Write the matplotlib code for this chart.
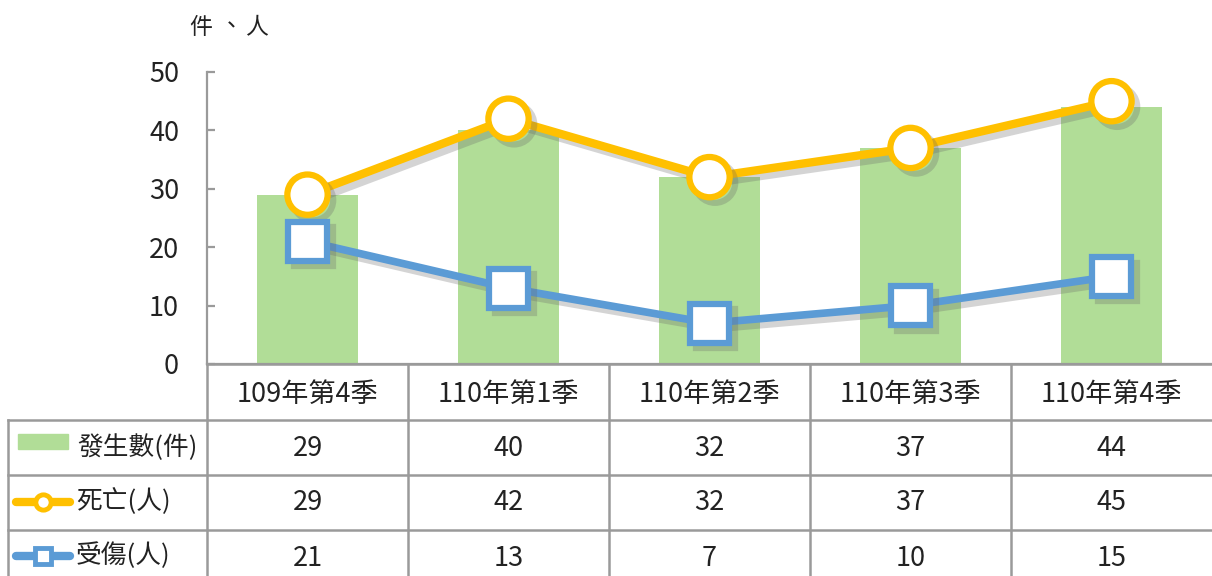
import matplotlib
matplotlib.use("Agg")
import matplotlib.pyplot as plt
import matplotlib.patheffects as pe
from matplotlib.patches import Rectangle

plt.rcParams['font.family'] = ['Noto Sans CJK TC', 'DejaVu Sans']

categories = ["109年第4季", "110年第1季", "110年第2季", "110年第3季", "110年第4季"]
cases = [29, 40, 32, 37, 44]
deaths = [29, 42, 32, 37, 45]
injuries = [21, 13, 7, 10, 15]
series_names = ["發生數(件)", "死亡(人)", "受傷(人)"]
yticks = [0, 10, 20, 30, 40, 50]
unit_chars = ["件", "、", "人"]

GREEN = "#b1dd97"
YELLOW = "#ffc000"
BLUE = "#5b9bd5"
GRID = "#9a9a9a"
TXT = "#222222"
FS = 19.5
FSL = 18.5

W, H = 1212, 576
fig = plt.figure(figsize=(W / 100, H / 100), dpi=100)

x0, xw = 207, 201
top, bot = 72, 364
ax = fig.add_axes([x0 / W, 1 - bot / H, 5 * xw / W, (bot - top) / H])
xs = list(range(len(categories)))
ax.bar(xs, cases, width=0.5, color=GREEN, zorder=1)

shadow = [pe.SimpleLineShadow(offset=(4, -4), shadow_color="#666666", alpha=0.28), pe.Normal()]
ax.plot(xs, deaths, color=YELLOW, lw=6, marker="o", ms=29, mfc="white", mec=YELLOW,
        mew=4.5, zorder=3, path_effects=shadow, clip_on=False)
ax.plot(xs, injuries, color=BLUE, lw=5.5, marker="s", ms=28, mfc="white", mec=BLUE,
        mew=4.5, zorder=3, path_effects=shadow, clip_on=False)

ax.set_xlim(-0.5, len(categories) - 0.5)
ax.set_ylim(0, 50)
ax.set_yticks(yticks)
ax.set_xticks([])
for s in ["top", "right"]:
    ax.spines[s].set_visible(False)
for s in ["left", "bottom"]:
    ax.spines[s].set_color(GRID)
    ax.spines[s].set_linewidth(1.6)
ax.tick_params(axis="y", direction="in", length=6, width=1.6, color=GRID,
               labelsize=FS, labelcolor=TXT, pad=20)
ax.patch.set_alpha(0)

# overlay for table and unit label
ov = fig.add_axes([0, 0, 1, 1], zorder=5)
ov.set_xlim(0, W)
ov.set_ylim(H, 0)
ov.axis("off")
ov.patch.set_alpha(0)

for ch, ux in zip(unit_chars, [201, 231, 256]):
    ov.text(ux, 27, ch, ha="center", va="center", fontsize=16.5, color=TXT)

lw = 1.8
rows = [364, 420, 475, 530]
ov.plot([x0, W], [rows[0], rows[0]], color=GRID, lw=lw)
for r in rows[1:]:
    ov.plot([8, W], [r, r], color=GRID, lw=lw)
ov.plot([8, 8], [rows[1], H], color=GRID, lw=lw)
for i in range(len(categories)):
    xl = x0 + i * xw
    ov.plot([xl, xl], [rows[0], H], color=GRID, lw=lw)

for i, c in enumerate(categories):
    cx = x0 + (i + 0.5) * xw
    ov.text(cx, 394, c, ha="center", va="center", fontsize=FS, color=TXT)
    ov.text(cx, 449, str(cases[i]), ha="center", va="center", fontsize=FS, color=TXT)
    ov.text(cx, 503, str(deaths[i]), ha="center", va="center", fontsize=FS, color=TXT)
    ov.text(cx, 558, str(injuries[i]), ha="center", va="center", fontsize=FS, color=TXT)

# legend keys
ov.add_patch(Rectangle((18, 434), 50, 15, color=GREEN))
ov.text(77, 448, series_names[0], ha="left", va="center", fontsize=FSL, color=TXT)
ov.plot([16, 70], [502, 502], color=YELLOW, lw=6, solid_capstyle="round")
ov.plot([43], [502], marker="o", ms=11, mfc="white", mec=YELLOW, mew=3.5)
ov.text(76, 502, series_names[1], ha="left", va="center", fontsize=FSL, color=TXT)
ov.plot([16, 70], [556, 556], color=BLUE, lw=6, solid_capstyle="round")
ov.plot([43], [556], marker="s", ms=11, mfc="white", mec=BLUE, mew=3.5)
ov.text(76, 556, series_names[2], ha="left", va="center", fontsize=FSL, color=TXT)

fig.savefig("out.png", dpi=100)
